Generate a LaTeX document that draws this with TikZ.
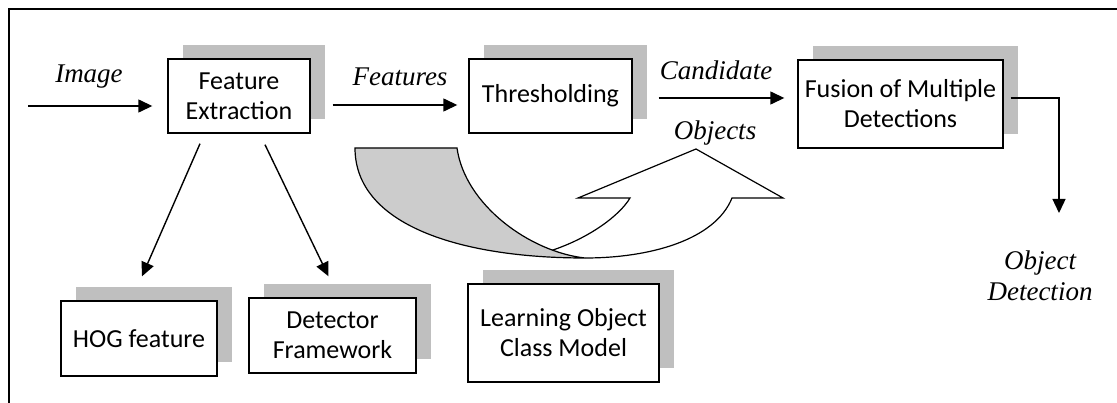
\documentclass[tikz,border=0pt]{standalone}
\usepackage{fontspec}
\setmainfont{Carlito}
\newfontfamily\labelfont{Liberation Serif}
\usetikzlibrary{arrows.meta,shadows}
\definecolor{shadowgray}{RGB}{191,191,191}
\definecolor{bandgray}{RGB}{204,204,204}
\begin{document}
\begin{tikzpicture}[x=1pt,y=-1pt,
  stage/.style={draw, line width=1.4pt, fill=white, align=center, inner sep=0pt,
    font=\fontsize{26}{30}\selectfont,
    drop shadow={shadow xshift=15pt, shadow yshift=14pt, fill=shadowgray, opacity=1}},
  flow/.style={line width=1.4pt, -{Triangle[length=14pt,width=13pt]}},
  tag/.style={font=\labelfont\itshape\fontsize{27}{31}\selectfont, inner sep=0pt}]
\useasboundingbox (0,0) rectangle (1117,403);

% outer frame
\draw[line width=2pt] (9,403) -- (9,9) -- (1117,9);

% processing stages
\node[stage, minimum width=142pt, minimum height=74pt] (fe)  at (239,96)    {Feature\\Extraction};
\node[stage, minimum width=163pt, minimum height=74pt] (thr) at (550.5,96)  {Thresholding};
\node[stage, minimum width=205pt, minimum height=88pt] (fus) at (900.5,104) {Fusion of Multiple\\Detections};
\node[stage, minimum width=156pt, minimum height=75pt] (hog) at (139,338.5) {HOG feature};
\node[stage, minimum width=167pt, minimum height=75pt] (det) at (332.5,335.5) {Detector\\Framework};
\node[stage, minimum width=191pt, minimum height=98pt] (lrn) at (563.5,333) {Learning Object\\Class Model};

% curved block arrow: white front with arrow head
\fill[white] (550,251) .. controls (590,238) and (620,215) .. (630,198)
  -- (578,198) -- (696,149) -- (783,198) -- (732,198)
  .. controls (715,240) and (650,258) .. (585,258) -- cycle;
\draw[line width=1.2pt, line join=miter] (550,251) .. controls (590,238) and (620,215) .. (630,198)
  -- (578,198) -- (696,149) -- (783,198) -- (732,198)
  .. controls (715,240) and (650,258) .. (585,258);
% shaded back of the band
\filldraw[fill=bandgray, line width=1.2pt] (355,148) -- (457,148)
  .. controls (465,205) and (530,252) .. (585,258)
  .. controls (460,258) and (355,225) .. (355,148) -- cycle;

% labels
\node[tag, anchor=base] (limg)  at (89,83)   {Image};
\node[tag, anchor=base] (lfeat) at (400,86)  {Features};
\node[tag, anchor=base] (lcand) at (716,80)  {Candidate};
\node[tag, anchor=base] (lobj)  at (715,140) {Objects};
\node[tag, align=center] (lod)  at (1040,276) {Object\\Detection};

% connectors
\coordinate (imgsrc) at (28,106);
\draw[flow, shorten >=15pt] (imgsrc) -- (imgsrc -| fe.west);

\coordinate (f1) at ([yshift=-9pt]fe.east);
\draw[flow, shorten <=22pt, shorten >=11pt] (f1) -- (f1 -| thr.west);

\coordinate (c1) at ([yshift=-2pt]thr.east);
\draw[flow, shorten <=26pt, shorten >=13pt] (c1) -- (c1 -| fus.west);

\coordinate (odtip) at (1059,213);
\draw[flow, shorten <=7pt] ([yshift=6pt]fus.east) -| (odtip);

\draw[flow] ([xshift=-39pt,yshift=-10pt]fe.south) -- ([xshift=3pt,yshift=24pt]hog.north);
\draw[flow] ([xshift=26pt,yshift=-11pt]fe.south) -- ([xshift=-4pt,yshift=21pt]det.north);
\end{tikzpicture}
\end{document}
